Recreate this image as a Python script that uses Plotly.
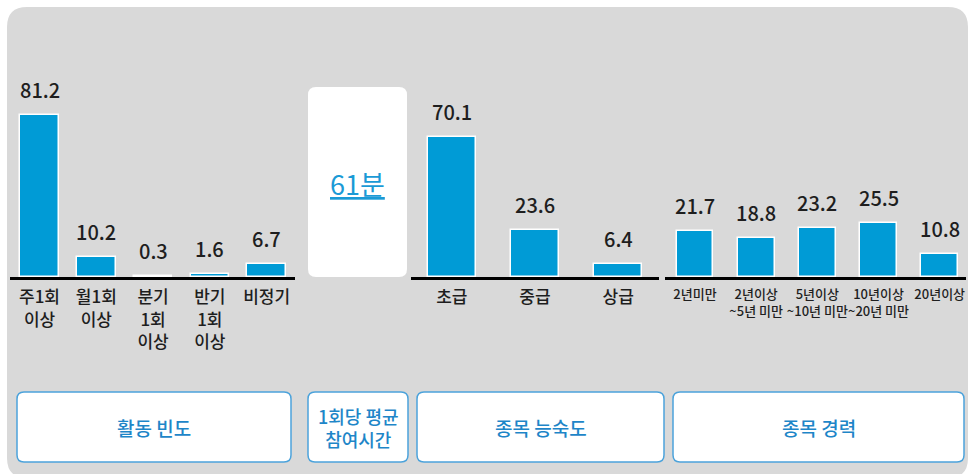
import plotly.graph_objects as go

W, H = 970, 474

# ---------------- data ----------------
freq_labels = ["주1회<br>이상", "월1회<br>이상", "분기<br>1회<br>이상", "반기<br>1회<br>이상", "비정기"]
freq_values = [81.2, 10.2, 0.3, 1.6, 6.7]

skill_labels = ["초급", "중급", "상급"]
skill_values = [70.1, 23.6, 6.4]

career_labels = ["2년미만", "2년이상<br>~5년 미만", "5년이상<br>~10년 미만", "10년이상<br>~20년 미만", "20년이상"]
career_values = [21.7, 18.8, 23.2, 25.5, 10.8]

avg_time_label = "61분"
group_titles = ["활동 빈도", "1회당 평균<br>참여시간", "종목 능숙도", "종목 경력"]

# ---------------- style ----------------
BAR = "#009BD6"
PANEL = "#D9D9D9"
BOX_LINE = "#4CA3DB"
BOX_TEXT = "#1E86C8"
TXT = "#1E1E1E"
FONT = "Noto Sans CJK KR"


def px(x):
    return x / W


def py(y):
    return 1 - y / H


def rrect(x0, y0, x1, y1, r):
    """rounded rectangle path in paper coords from pixel coords"""
    rx, ry = r / W, r / H
    X0, X1 = px(x0), px(x1)
    Y0, Y1 = py(y0), py(y1)  # Y0 top, Y1 bottom (paper)
    return (f"M{X0+rx},{Y0} L{X1-rx},{Y0} Q{X1},{Y0} {X1},{Y0-ry} "
            f"L{X1},{Y1+ry} Q{X1},{Y1} {X1-rx},{Y1} "
            f"L{X0+rx},{Y1} Q{X0},{Y1} {X0},{Y1+ry} "
            f"L{X0},{Y0-ry} Q{X0},{Y0} {X0+rx},{Y0} Z")


fig = go.Figure()

groups = [
    (freq_labels, freq_values, "x", "y", 0.68),
    (skill_labels, skill_values, "x2", "y2", 0.58),
    (career_labels, career_values, "x3", "y3", 0.6),
]

annotations = []
for labels, values, xa, ya, bw in groups:
    idx = list(range(len(values)))
    fig.add_trace(go.Bar(
        x=idx, y=values, xaxis=xa, yaxis=ya, width=bw,
        marker=dict(color=BAR, line=dict(color="white", width=1.5)),
        hoverinfo="skip", showlegend=False,
    ))
    for i, v in zip(idx, values):
        annotations.append(dict(
            x=i, y=v, xref=xa, yref=ya, text=f"{v:.1f}", showarrow=False,
            yanchor="bottom", yshift=9,
            font=dict(family=FONT, size=20, color=TXT, weight=500),
        ))

baseline = 277
top = 40
axis_common = dict(showgrid=False, zeroline=False, ticks="", showline=True,
                   linecolor="black", linewidth=3, fixedrange=True, tickangle=0)

fig.update_layout(
    width=W, height=H,
    margin=dict(l=0, r=0, t=0, b=0),
    paper_bgcolor="white", plot_bgcolor="rgba(0,0,0,0)",
    bargap=0,
    xaxis=dict(domain=[px(10), px(295)], range=[-0.52, 4.5], anchor="y",
               tickvals=list(range(len(freq_labels))), ticktext=freq_labels, ticklabelstandoff=3,
               tickfont=dict(family=FONT, size=17, color=TXT, weight=500), **axis_common),
    yaxis=dict(domain=[py(baseline), py(top)], range=[0, (baseline - top) / 2.0], visible=False),
    xaxis2=dict(domain=[px(411), px(659)], range=[-0.49, 2.49], anchor="y2",
                tickvals=list(range(len(skill_labels))), ticktext=skill_labels, ticklabelstandoff=3,
                tickfont=dict(family=FONT, size=17, color=TXT, weight=500), **axis_common),
    yaxis2=dict(domain=[py(baseline), py(top)], range=[0, (baseline - top) / 2.0], visible=False),
    xaxis3=dict(domain=[px(665), px(966)], range=[-0.49, 4.43], anchor="y3",
                tickvals=list(range(len(career_labels))), ticktext=career_labels, ticklabelstandoff=3,
                tickfont=dict(family=FONT, size=13, color=TXT, weight=500), **axis_common),
    yaxis3=dict(domain=[py(baseline), py(top)], range=[0, (baseline - top) / 2.1], visible=False),
)

shapes = [
    dict(type="path", path=rrect(7, 7, 968, 478, 20), xref="paper", yref="paper",
         fillcolor=PANEL, line=dict(width=0), layer="below"),
    dict(type="path", path=rrect(308, 87, 407, 277, 8), xref="paper", yref="paper",
         fillcolor="white", line=dict(width=0), layer="below"),
]

boxes = [(17, 291), (308, 408), (417, 664), (673, 964)]
for (x0, x1), title in zip(boxes, group_titles):
    shapes.append(dict(type="path", path=rrect(x0, 392, x1, 462, 7), xref="paper", yref="paper",
                       fillcolor="white", line=dict(color=BOX_LINE, width=1.5), layer="below"))
    annotations.append(dict(
        x=px((x0 + x1) / 2), y=py(427), xref="paper", yref="paper", text=title,
        showarrow=False, xanchor="center", yanchor="middle",
        font=dict(family=FONT, size=18 if "<br>" in title else 19, color=BOX_TEXT, weight=500),
    ))

annotations.append(dict(
    x=px(357.5), y=py(183), xref="paper", yref="paper", text=f"<u>{avg_time_label}</u>",
    showarrow=False, xanchor="center", yanchor="middle",
    font=dict(family=FONT, size=27, color="#1A9AD6"),
))

fig.update_layout(shapes=shapes, annotations=annotations)

fig.write_html("out.html", config={"displayModeBar": False},
               post_script="document.body.style.margin='0';document.body.style.overflow='hidden';")
